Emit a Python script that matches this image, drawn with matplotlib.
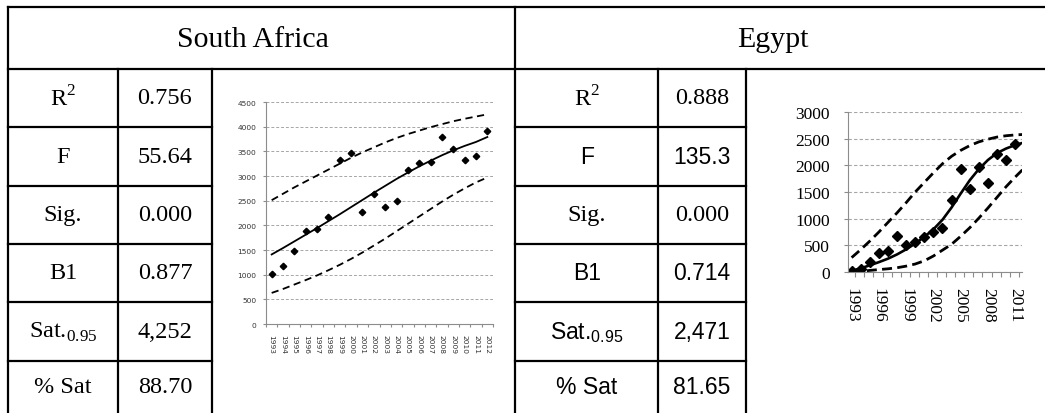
import matplotlib.pyplot as plt
import numpy as np

plt.rcParams['mathtext.fontset'] = 'custom'
plt.rcParams['mathtext.rm'] = 'Liberation Serif'
plt.rcParams['mathtext.sf'] = 'Liberation Sans'

# ---- regression summary ----
stat_labels_sa = ['R$^{2}$', 'F', 'Sig.', 'B1', r'Sat.$_{\mathrm{0.95}}$', '% Sat']
stat_values_sa = ['0.756', '55.64', '0.000', '0.877', '4,252', '88.70']

stat_labels_eg = ['R$^{2}$', 'F', 'Sig.', 'B1', r'Sat.$_{\mathsf{0.95}}$', '% Sat']
stat_values_eg = ['0.888', '135.3', '0.000', '0.714', '2,471', '81.65']
# the Egypt block mixes Times and Arial rows
serif_rows_eg = [True, False, True, False, False, False]

# ---- South Africa series ----
years_sa = list(range(1993, 2013))
obs_sa = [1010, 1170, 1470, 1885, 1925, 2170, 3320, 3460, 2275, 2630,
          2365, 2490, 3115, 3260, 3285, 3790, 3550, 3325, 3410, 3920]
fit_sa = [1410, 1540, 1675, 1810, 1945, 2085, 2225, 2370, 2515, 2660,
          2800, 2940, 3070, 3195, 3310, 3420, 3520, 3610, 3690, 3790]
upper_sa = [2510, 2640, 2770, 2890, 3010, 3130, 3250, 3370, 3480, 3580,
            3680, 3770, 3850, 3920, 3990, 4050, 4110, 4160, 4205, 4250]
lower_sa = [630, 710, 800, 890, 985, 1090, 1200, 1320, 1450, 1590,
            1730, 1880, 2030, 2180, 2330, 2480, 2620, 2750, 2870, 2970]

# ---- Egypt series ----
years_eg_obs = list(range(1993, 2012))
obs_eg = [20, 50, 190, 360, 390, 675, 500, 560, 655, 750,
          830, 1345, 1940, 1550, 1970, 1675, 2205, 2095, 2405]
years_eg = list(range(1993, 2013))
fit_eg = [20, 70, 125, 185, 250, 330, 425, 535, 660, 800,
          980, 1210, 1470, 1720, 1930, 2100, 2230, 2315, 2380, 2430]
upper_eg = [270, 420, 580, 750, 930, 1110, 1300, 1500, 1680, 1860,
            2030, 2170, 2280, 2370, 2440, 2490, 2530, 2555, 2570, 2580]
lower_eg = [0, 10, 30, 45, 60, 80, 110, 150, 210, 300,
            410, 520, 670, 830, 1010, 1200, 1400, 1600, 1780, 1950]
eg_label_years = list(range(1993, 2012, 3))

W, H = 1045, 414
fig = plt.figure(figsize=(W / 100, H / 100), dpi=100)

# full-size axes in pixel units for the table grid
tab = fig.add_axes([0, 0, 1, 1])
tab.set_xlim(0, W)
tab.set_ylim(H, 0)
tab.axis('off')


def rule(x0, y0, x1, y1):
    tab.plot([x0, x1], [y0, y1], color='black', lw=1.6, solid_capstyle='projecting')


rows = [70, 128, 187, 245, 303, 362, 414]
rule(8, 8, W, 8)
rule(8, 70, W, 70)
rule(8, 8, 8, H)
rule(515, 8, 515, H)
for x in (118, 212, 658, 746):
    rule(x, 70, x, H)
for y in rows[1:-1]:
    rule(8, y, 212, y)
    rule(515, y, 746, y)

tab.text(253, 40, 'South Africa', family='Liberation Serif', fontsize=21.5,
         ha='center', va='center')
tab.text(773, 40, 'Egypt', family='Liberation Serif', fontsize=21.5,
         ha='center', va='center')

for i in range(6):
    yc = (rows[i] + rows[i + 1]) / 2
    tab.text(63, yc, stat_labels_sa[i], family='Liberation Serif', fontsize=17.5,
             ha='center', va='center')
    tab.text(165, yc, stat_values_sa[i], family='Liberation Serif', fontsize=17.5,
             ha='center', va='center')
    fam = 'Liberation Serif' if serif_rows_eg[i] else 'Liberation Sans'
    size = 17.5 if serif_rows_eg[i] else 16.5
    tab.text(587, yc, stat_labels_eg[i], family=fam, fontsize=size,
             ha='center', va='center')
    tab.text(702, yc, stat_values_eg[i], family=fam, fontsize=size,
             ha='center', va='center')


def chart_axes(x0, y0, x1, y1):
    return fig.add_axes([x0 / W, 1 - y1 / H, (x1 - x0) / W, (y1 - y0) / H])


axis_grey = '#8c8c8c'

# ---- South Africa chart ----
ax1 = chart_axes(266, 103, 493, 325)
ax1.plot(years_sa, upper_sa, color='black', lw=1.3, dashes=(4, 2.5))
ax1.plot(years_sa, lower_sa, color='black', lw=1.3, dashes=(4, 2.5))
ax1.plot(years_sa, fit_sa, color='black', lw=1.3)
ax1.plot(years_sa, obs_sa, 'D', color='black', ms=3.3, linestyle='none')
ax1.set_xlim(1992.5, 2012.5)
ax1.set_ylim(0, 4500)
ax1.set_yticks(range(0, 4501, 500))
ax1.set_xticks(years_sa)
ax1.set_xticklabels([str(y) for y in years_sa], rotation=-90,
                    family='DejaVu Sans', fontsize=5.4, color='#333333')
ax1.set_yticklabels([str(v) for v in range(0, 4501, 500)],
                    family='DejaVu Sans', fontsize=5.4, color='#333333')
ax1.set_xticks(np.arange(1992.5, 2013, 1), minor=True)
ax1.tick_params(axis='x', which='major', length=0, pad=7)
ax1.tick_params(axis='x', which='minor', length=2.5, color=axis_grey, width=0.8)
ax1.tick_params(axis='y', length=2, color=axis_grey, width=0.8, pad=5)
ax1.yaxis.grid(True, color='#a6a6a6', linestyle=(0, (3, 2)), lw=0.7)
ax1.set_axisbelow(True)
for s in ('top', 'right'):
    ax1.spines[s].set_visible(False)
for s in ('left', 'bottom'):
    ax1.spines[s].set_color(axis_grey)
    ax1.spines[s].set_linewidth(0.8)
ax1.patch.set_alpha(0)

# ---- Egypt chart ----
ax2 = chart_axes(848, 113, 1022, 273)
ax2.plot(years_eg, upper_eg, color='black', lw=2.0, dashes=(3.6, 1.9))
ax2.plot(years_eg, lower_eg, color='black', lw=2.0, dashes=(3.6, 1.9))
ax2.plot(years_eg, fit_eg, color='black', lw=1.9)
ax2.plot(years_eg_obs, obs_eg, 'D', color='black', ms=5, linestyle='none')
ax2.set_xlim(1992.6, 2011.75)
ax2.set_ylim(0, 3000)
ax2.set_yticks(range(0, 3001, 500))
ax2.set_xticks(eg_label_years)
ax2.set_xticklabels([str(y) for y in eg_label_years], rotation=-90,
                    family='Liberation Serif', fontsize=12.5)
ax2.set_yticklabels([str(v) for v in range(0, 3001, 500)],
                    family='Liberation Serif', fontsize=12.5)
ax2.set_xticks(np.arange(1993.4, 2012, 1), minor=True)
ax2.tick_params(axis='x', which='major', length=0, pad=11)
ax2.tick_params(axis='x', which='minor', length=3.5, color=axis_grey, width=0.8)
ax2.tick_params(axis='y', length=3, color=axis_grey, width=0.8, pad=10)
ax2.yaxis.grid(True, color='#a6a6a6', linestyle=(0, (3, 2)), lw=0.8)
ax2.set_axisbelow(True)
for s in ('top', 'right'):
    ax2.spines[s].set_visible(False)
for s in ('left', 'bottom'):
    ax2.spines[s].set_color(axis_grey)
    ax2.spines[s].set_linewidth(0.8)
ax2.patch.set_alpha(0)

fig.savefig('out.png', dpi=100)
